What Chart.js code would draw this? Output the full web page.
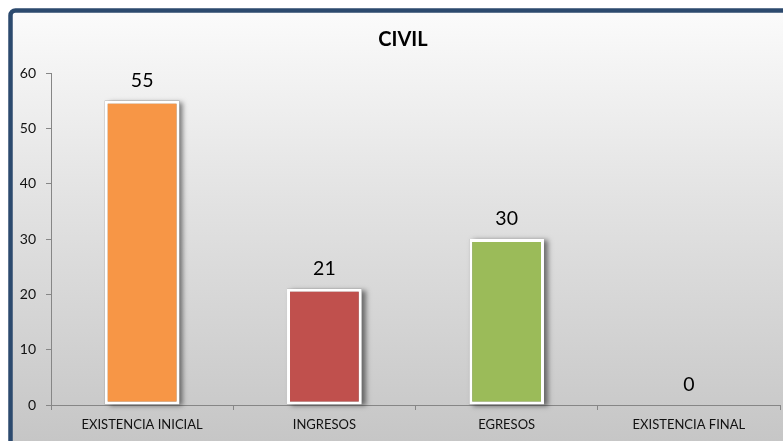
<!DOCTYPE html>
<html>
<head>
<meta charset="utf-8">
<script src="https://cdn.jsdelivr.net/npm/chart.js@4/dist/chart.umd.min.js"></script>
<style>
  html, body { margin: 0; padding: 0; background: #ffffff; }
  #wrap { width: 783px; height: 441px; position: relative; }
</style>
</head>
<body>
<div id="wrap"><canvas id="c" width="783" height="441"></canvas></div>
<script>
const chartTitle = "CIVIL";
const categories = ["EXISTENCIA INICIAL", "INGRESOS", "EGRESOS", "EXISTENCIA FINAL"];
const values = [55, 21, 30, 0];
const barColors = ["#F79646", "#C0504D", "#9BBB59", "#4F81BD"];
const yTicks = [0, 10, 20, 30, 40, 50, 60];

const FONT = "Lato, 'Liberation Sans', sans-serif";

const framePlugin = {
  id: 'frame',
  beforeDraw(chart) {
    const ctx = chart.ctx;
    const W = chart.width, H = chart.height;
    ctx.save();
    ctx.fillStyle = '#ffffff';
    ctx.fillRect(0, 0, W, H);
    const g = ctx.createLinearGradient(0, 10, 0, H);
    g.addColorStop(0, '#fbfbfb');
    g.addColorStop(0.45, '#e2e2e2');
    g.addColorStop(1, '#c6c6c6');
    ctx.fillStyle = g;
    ctx.beginPath();
    ctx.roundRect(10.5, 10.5, W + 20, H + 20, 5);
    ctx.fill();
    ctx.strokeStyle = '#2C4A6E';
    ctx.lineWidth = 4.5;
    ctx.stroke();
    // title
    ctx.fillStyle = '#000000';
    ctx.font = "bold 20px " + FONT;
    ctx.textAlign = 'center';
    ctx.textBaseline = 'middle';
    ctx.fillText(chartTitle, 403, 40);
    ctx.restore();
  },
  beforeDatasetsDraw(chart) {
    const ctx = chart.ctx;
    const meta = chart.getDatasetMeta(0);
    ctx.save();
    meta.data.forEach((el, i) => {
      if (!values[i]) return;
      const p = el.getProps(['x', 'y', 'base', 'width'], true);
      ctx.shadowColor = 'rgba(0,0,0,0.5)';
      ctx.shadowBlur = 5;
      ctx.shadowOffsetX = 4;
      ctx.shadowOffsetY = 1;
      ctx.fillStyle = '#888';
      ctx.fillRect(p.x - p.width / 2, p.y, p.width, p.base - p.y);
    });
    ctx.restore();
  },
  afterDatasetsDraw(chart) {
    const ctx = chart.ctx;
    const meta = chart.getDatasetMeta(0);
    ctx.save();
    ctx.fillStyle = '#000000';
    ctx.font = "19.5px " + FONT;
    ctx.textAlign = 'center';
    ctx.textBaseline = 'middle';
    meta.data.forEach((el, i) => {
      const p = el.getProps(['x', 'y'], true);
      ctx.fillText(String(values[i]), p.x, p.y - 20);
    });
    ctx.restore();
  }
};

new Chart(document.getElementById('c'), {
  type: 'bar',
  data: {
    labels: categories,
    datasets: [{
      data: values,
      backgroundColor: barColors,
      borderColor: '#ffffff',
      borderWidth: 3,
      borderSkipped: false,
      categoryPercentage: 1.0,
      barPercentage: 0.41
    }]
  },
  options: {
    responsive: false,
    animation: false,
    layout: { padding: { left: 14, top: 73, right: 3, bottom: 0 } },
    plugins: { legend: { display: false }, tooltip: { enabled: false }, title: { display: false } },
    scales: {
      x: {
        grid: { display: true, drawOnChartArea: false, offset: true, tickLength: 5, color: '#868686' },
        border: { display: true, color: '#868686', width: 1 },
        ticks: { color: '#111111', font: { family: FONT, size: 13 }, padding: 7, maxRotation: 0, autoSkip: false },
        afterFit(scale) { scale.height = 36; }
      },
      y: {
        min: 0, max: 60,
        afterBuildTicks(scale) { scale.ticks = yTicks.map(v => ({ value: v })); },
        grid: { display: true, drawOnChartArea: false, tickLength: 5, color: '#868686' },
        border: { display: true, color: '#868686', width: 1 },
        ticks: { color: '#111111', font: { family: FONT, size: 14 }, padding: 10 },
        afterFit(scale) { scale.width = 37; }
      }
    }
  },
  plugins: [framePlugin]
});
</script>
</body>
</html>
